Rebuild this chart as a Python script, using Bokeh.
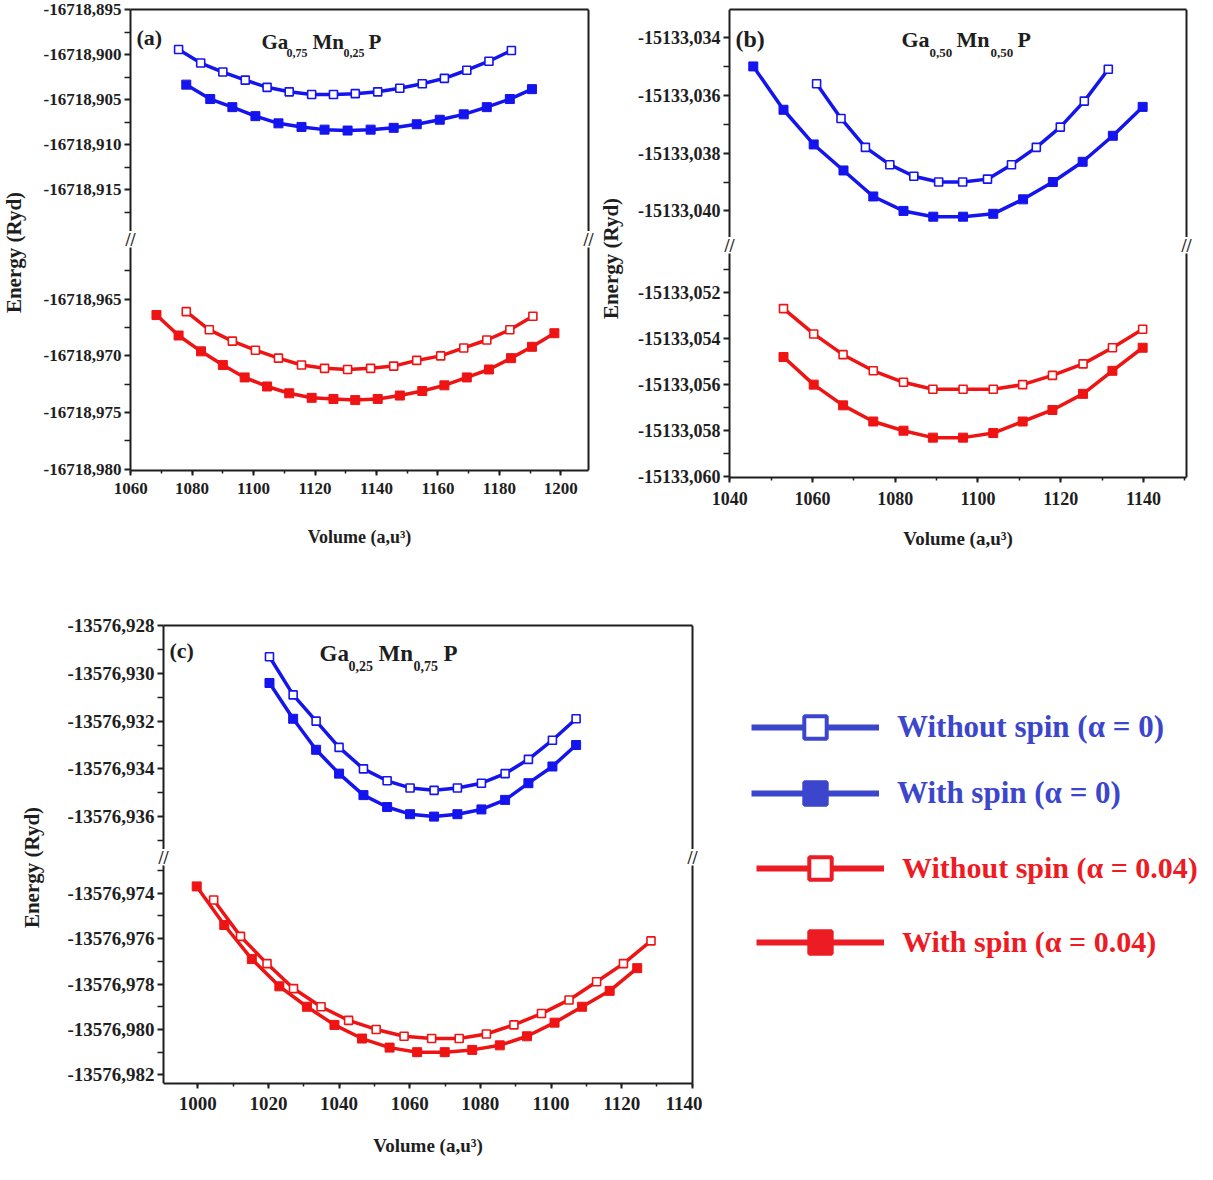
import math
from bokeh.plotting import figure
from bokeh.models import (Range1d, LinearAxis, SingleIntervalTicker, FixedTicker,
                          CustomJSTickFormatter, Label, Legend, LegendItem, Spacer)
from bokeh.layouts import row, column
from bokeh.embed import file_html
from bokeh.resources import INLINE

FONT = "Liberation Serif"
BLUE = "#1414EE"
RED = "#EE1414"
LEG_BLUE = "#3C46CC"
LEG_RED = "#ED1C24"
INK = "#1e1e1e"

# ---------------- data (Volume in a.u.^3, Energy in Ryd) ----------------
# (a) Ga0.75Mn0.25P
a_v_blue_open = [1075.6, 1082.8, 1090.0, 1097.3, 1104.4, 1111.6, 1118.9, 1126.0, 1133.1, 1140.4, 1147.6, 1154.9, 1162.1, 1169.4, 1176.6, 1183.9]
a_e_blue_open = [-16718.8994, -16718.9009, -16718.9019, -16718.9028, -16718.9036, -16718.9041, -16718.9044, -16718.9044, -16718.9043, -16718.9041, -16718.9037, -16718.9032, -16718.9026, -16718.9017, -16718.9007, -16718.8995]
a_v_blue_fill = [1078.1, 1085.9, 1093.1, 1100.6, 1108.1, 1115.6, 1123.1, 1130.6, 1138.1, 1145.6, 1153.1, 1160.6, 1168.4, 1175.9, 1183.4, 1190.6]
a_e_blue_fill = [-16718.9033, -16718.9049, -16718.9058, -16718.9068, -16718.9076, -16718.9080, -16718.9083, -16718.9084, -16718.9083, -16718.9081, -16718.9077, -16718.9072, -16718.9066, -16718.9058, -16718.9049, -16718.9038]
a_v_red_open = [1078.1, 1085.6, 1093.1, 1100.6, 1108.1, 1115.6, 1123.1, 1130.6, 1138.1, 1145.6, 1153.1, 1160.9, 1168.4, 1175.9, 1183.4, 1190.9]
a_e_red_open = [-16718.9661, -16718.9677, -16718.9687, -16718.9695, -16718.9702, -16718.9708, -16718.9711, -16718.9712, -16718.9711, -16718.9709, -16718.9704, -16718.9700, -16718.9693, -16718.9686, -16718.9677, -16718.9665]
a_v_red_fill = [1068.4, 1075.6, 1082.9, 1090.0, 1097.1, 1104.4, 1111.6, 1118.9, 1126.0, 1133.1, 1140.4, 1147.6, 1154.9, 1162.1, 1169.4, 1176.6, 1183.8, 1190.6, 1197.9]
a_e_red_fill = [-16718.9664, -16718.9682, -16718.9696, -16718.9708, -16718.9719, -16718.9727, -16718.9733, -16718.9737, -16718.9738, -16718.9739, -16718.9738, -16718.9735, -16718.9731, -16718.9726, -16718.9719, -16718.9712, -16718.9702, -16718.9692, -16718.9680]
a_yticks_top = [-16718.895, -16718.900, -16718.905, -16718.910, -16718.915]
a_yticks_bot = [-16718.965, -16718.970, -16718.975, -16718.980]

# (b) Ga0.50Mn0.50P
b_v_blue_fill = [1045.7, 1053.0, 1060.3, 1067.5, 1074.7, 1082.0, 1089.2, 1096.4, 1103.7, 1110.9, 1118.1, 1125.3, 1132.6, 1139.8]
b_e_blue_fill = [-15133.0350, -15133.0365, -15133.0377, -15133.0386, -15133.0395, -15133.0400, -15133.0402, -15133.0402, -15133.0401, -15133.0396, -15133.0390, -15133.0383, -15133.0374, -15133.0364]
b_v_blue_open = [1061.0, 1066.9, 1072.8, 1078.7, 1084.5, 1090.5, 1096.3, 1102.3, 1108.1, 1114.1, 1119.9, 1125.7, 1131.5]
b_e_blue_open = [-15133.0356, -15133.0368, -15133.0378, -15133.0384, -15133.0388, -15133.0390, -15133.0390, -15133.0389, -15133.0384, -15133.0378, -15133.0371, -15133.0362, -15133.0351]
b_v_red = [1053.0, 1060.3, 1067.4, 1074.7, 1082.0, 1089.1, 1096.4, 1103.7, 1110.8, 1118.0, 1125.4, 1132.5, 1139.8]
b_e_red_open = [-15133.0527, -15133.0538, -15133.0547, -15133.0554, -15133.0559, -15133.0562, -15133.0562, -15133.0562, -15133.0560, -15133.0556, -15133.0551, -15133.0544, -15133.0536]
b_e_red_fill = [-15133.0548, -15133.0560, -15133.0569, -15133.0576, -15133.0580, -15133.0583, -15133.0583, -15133.0581, -15133.0576, -15133.0571, -15133.0564, -15133.0554, -15133.0544]
b_yticks_top = [-15133.034, -15133.036, -15133.038, -15133.040]
b_yticks_bot = [-15133.052, -15133.054, -15133.056, -15133.058, -15133.060]

# (c) Ga0.25Mn0.75P
c_v_blue = [1020.3, 1027.0, 1033.5, 1040.0, 1046.9, 1053.6, 1060.1, 1066.9, 1073.5, 1080.3, 1087.0, 1093.6, 1100.4, 1107.1]
c_e_blue_open = [-13576.9293, -13576.9309, -13576.9320, -13576.9331, -13576.9340, -13576.9345, -13576.9348, -13576.9349, -13576.9348, -13576.9346, -13576.9342, -13576.9336, -13576.9328, -13576.9319]
c_e_blue_fill = [-13576.9304, -13576.9319, -13576.9332, -13576.9342, -13576.9351, -13576.9356, -13576.9359, -13576.9360, -13576.9359, -13576.9357, -13576.9353, -13576.9346, -13576.9339, -13576.9330]
c_v_red_open = [1004.5, 1012.1, 1019.6, 1027.1, 1034.9, 1042.7, 1050.5, 1058.4, 1066.2, 1074.0, 1081.7, 1089.5, 1097.3, 1105.1, 1112.9, 1120.5, 1128.3]
c_e_red_open = [-13576.9743, -13576.9759, -13576.9771, -13576.9782, -13576.9790, -13576.9796, -13576.9800, -13576.9803, -13576.9804, -13576.9804, -13576.9802, -13576.9798, -13576.9793, -13576.9787, -13576.9779, -13576.9771, -13576.9761]
c_v_red_fill = [999.7, 1007.5, 1015.3, 1023.1, 1030.9, 1038.7, 1046.5, 1054.3, 1062.1, 1069.9, 1077.7, 1085.5, 1093.2, 1101.0, 1108.8, 1116.6, 1124.4]
c_e_red_fill = [-13576.9737, -13576.9754, -13576.9769, -13576.9781, -13576.9790, -13576.9798, -13576.9804, -13576.9808, -13576.9810, -13576.9810, -13576.9809, -13576.9807, -13576.9803, -13576.9797, -13576.9790, -13576.9783, -13576.9773]
c_yticks_top = [-13576.928, -13576.930, -13576.932, -13576.934, -13576.936]
c_yticks_bot = [-13576.974, -13576.976, -13576.978, -13576.980, -13576.982]

legend_labels = ["Without spin (\u03b1 = 0)", "With spin (\u03b1 = 0)",
                 "Without spin (\u03b1 = 0.04)", "With spin (\u03b1 = 0.04)"]
x_title = "Volume (a,u\u00b3)"
y_title = "Energy (Ryd)"

FMT = "return tick.toFixed(3).replace('.', ',');"
GAP = 16   # vertical gap of the axis break, px
PADX = 6   # frame extends this many px beyond the drawn frame lines (room for break marks)


def plain_axis(**kw):
    return LinearAxis(ticker=FixedTicker(ticks=[]), major_tick_line_color=None,
                      minor_tick_line_color=None, major_label_text_font_size="0px",
                      major_label_standoff=0, axis_label_standoff=0,
                      axis_line_width=2, axis_line_color=INK, **kw)


def style_axis(ax, fs):
    ax.axis_line_width = 2
    ax.axis_line_color = INK
    ax.major_tick_line_width = 2
    ax.major_tick_line_color = INK
    ax.minor_tick_line_width = 1.5
    ax.minor_tick_line_color = INK
    ax.major_tick_out = 5
    ax.major_tick_in = 0
    ax.minor_tick_out = 3
    ax.minor_tick_in = 0
    ax.major_label_text_font = FONT
    ax.major_label_text_font_style = "bold"
    ax.major_label_text_font_size = f"{fs}px"
    ax.major_label_text_color = INK


def label(p, x, y, dx, dy, text, size, color=INK, align="left", baseline="alphabetic", angle=0.0):
    p.add_layout(Label(x=x, y=y, x_offset=dx, y_offset=dy, text=text, text_font=FONT,
                       text_font_style="bold", text_font_size=f"{size}px", text_color=color,
                       text_align=align, text_baseline=baseline, angle=angle))


def series(p, v, e, color, filled):
    p.line(v, e, line_color=color, line_width=3.5)
    if filled:
        p.scatter(v, e, marker="square", size=9, fill_color=color, line_color=color, line_width=1)
    else:
        p.scatter(v, e, marker="square", size=8, fill_color="white", line_color=color, line_width=1.6)


def minor_between(ticks, lo, hi):
    step = ticks[1] - ticks[0]
    cands = [t + step / 2 for t in ticks] + [ticks[0] - step / 2]
    return [m for m in cands if lo < m < hi]


def panel(cfg, top_series, bot_series):
    xa0, xa1 = cfg["xr"]
    fw = cfg["w"] - cfg["ml"] - cfg["mr"]
    padx = PADX * (xa1 - xa0) / fw
    xr = Range1d(xa0 - padx, xa1 + padx)
    yb0, yb1 = cfg["yb"]
    fh = cfg["hb"] - cfg["mb"] - GAP
    ext = GAP * (yb1 - yb0) / fh
    common = dict(width=cfg["w"], x_range=xr, toolbar_location=None, output_backend="svg",
                  min_border_left=cfg["ml"] - PADX, min_border_right=cfg["mr"] - PADX)
    top = figure(height=cfg["ht"], y_range=Range1d(*cfg["yt"]), x_axis_location=None,
                 min_border_top=cfg["mt"], min_border_bottom=0, **common)
    bot = figure(height=cfg["hb"], y_range=Range1d(yb0, yb1 + ext),
                 min_border_top=0, min_border_bottom=cfg["mb"], **common)
    for p, ticks, yr in ((top, cfg["tt"], cfg["yt"]), (bot, cfg["tb"], cfg["yb"])):
        p.outline_line_color = None
        p.grid.visible = False
        ax = p.yaxis[0]
        ax.ticker = FixedTicker(ticks=ticks, minor_ticks=minor_between(ticks, yr[0], yr[1]))
        ax.formatter = CustomJSTickFormatter(code=FMT)
        style_axis(ax, cfg["fsy"])
        # the axis sits PADX px left of the visible frame line: its inward ticks
        # therefore end exactly on that line
        ax.axis_line_color = None
        ax.major_tick_out = 0
        ax.major_tick_in = PADX
        ax.minor_tick_out = 0
        ax.minor_tick_in = PADX
        ax.major_label_standoff = 3
        # visible left / right frame lines of this part
        p.segment(x0=[xa0, xa1], y0=[yr[0], yr[0]], x1=[xa0, xa1], y1=[yr[1], yr[1]],
                  line_color=INK, line_width=2)
    top.add_layout(plain_axis(bounds=(xa0, xa1)), "above")
    xa = bot.xaxis[0]
    xa.ticker = SingleIntervalTicker(interval=20, num_minor_ticks=2)
    style_axis(xa, cfg["fsx"])
    xa.bounds = (xa0, xa1)
    xa.major_label_standoff = cfg["xstand"]
    xa.axis_label = x_title
    xa.axis_label_text_font = FONT
    xa.axis_label_text_font_style = "bold"
    xa.axis_label_text_font_size = f"{cfg['fsl']}px"
    xa.axis_label_text_color = INK
    xa.axis_label_standoff = cfg["lstand"]

    for v, e, c, f in top_series:
        series(top, v, e, c, f)
    for v, e, c, f in bot_series:
        series(bot, v, e, c, f)

    # break marks, drawn inside the gap above the lower part
    for xx in (xa0, xa1):
        label(bot, xx, yb1, 0, GAP / 2, "//", 18, align="center", baseline="middle")
    # panel letter and compound title
    ytop = cfg["yt"][1]
    label(top, xa0, ytop, cfg["let"][1], -cfg["let"][2], cfg["let"][0], cfg["let"][3])
    for text, dx, dy, size in cfg["title"]:
        label(top, xa0, ytop, dx, -dy, text, size)
    return column(top, bot)


def ylab_fig(w, h, cx, cy_from_top, size):
    f = figure(width=w, height=h, x_range=Range1d(0, w), y_range=Range1d(0, h),
               x_axis_location=None, y_axis_location=None, toolbar_location=None,
               output_backend="svg", min_border=0)
    f.outline_line_color = None
    f.grid.visible = False
    label(f, cx, h - cy_from_top, 0, 0, y_title, size, align="center", baseline="middle",
          angle=math.pi / 2)
    return f


cfg_a = dict(xr=(1059.95, 1209.0), yt=(-16718.91962, -16718.89495), yb=(-16718.98011, -16718.96044),
             tt=a_yticks_top, tb=a_yticks_bot,
             w=566, ml=100, mr=8, ht=231, hb=336, mt=9, mb=97,
             fsy=17, fsx=17, fsl=18, xstand=7, lstand=30,
             let=("(a)", 6, 28, 22),
             title=[("Ga", 131, 32, 21), ("0,75", 156, 43, 12), ("Mn", 182, 32, 21),
                    ("0,25", 213, 43, 12), ("P", 238, 32, 21)])
cfg_b = dict(xr=(1039.95, 1150.4), yt=(-15133.04092, -15133.03303), yb=(-15133.06003, -15133.05031),
             tt=b_yticks_top, tb=b_yticks_bot,
             w=570, ml=105, mr=8, ht=237, hb=330, mt=9, mb=90,
             fsy=18, fsx=18, fsl=19, xstand=9, lstand=20,
             let=("(b)", 6, 29, 24),
             title=[("Ga", 172, 30, 22), ("0,50", 200, 43, 13), ("Mn", 227, 30, 22),
                    ("0,50", 261, 43, 13), ("P", 288, 30, 22)])
cfg_c = dict(xr=(990.3, 1140.05), yt=(-13576.93738, -13576.92799), yb=(-13576.98238, -13576.97278),
             tt=c_yticks_top, tb=c_yticks_bot,
             w=657, ml=118, mr=10, ht=238, hb=314, mt=14, mb=80,
             fsy=19, fsx=19, fsl=19, xstand=8, lstand=22,
             let=("(c)", 6, 25, 22),
             title=[("Ga", 156, 28, 23), ("0,25", 185, 40, 14), ("Mn", 215, 28, 23),
                    ("0,75", 250, 40, 14), ("P", 280, 28, 23)])

pa = panel(cfg_a,
           [(a_v_blue_open, a_e_blue_open, BLUE, False), (a_v_blue_fill, a_e_blue_fill, BLUE, True)],
           [(a_v_red_open, a_e_red_open, RED, False), (a_v_red_fill, a_e_red_fill, RED, True)])
pb = panel(cfg_b,
           [(b_v_blue_open, b_e_blue_open, BLUE, False), (b_v_blue_fill, b_e_blue_fill, BLUE, True)],
           [(b_v_red, b_e_red_open, RED, False), (b_v_red, b_e_red_fill, RED, True)])
pc = panel(cfg_c,
           [(c_v_blue, c_e_blue_open, BLUE, False), (c_v_blue, c_e_blue_fill, BLUE, True)],
           [(c_v_red_open, c_e_red_open, RED, False), (c_v_red_fill, c_e_red_fill, RED, True)])

ya = ylab_fig(30, 567, 13, 252, 21)
yb = ylab_fig(28, 567, 14, 258, 21)
yc = ylab_fig(45, 552, 31, 256, 21)

# legend figure
lf = figure(width=495, height=400, x_range=Range1d(0, 1), y_range=Range1d(0, 1),
            x_axis_location=None, y_axis_location=None, toolbar_location=None,
            output_backend="svg", min_border=0)
lf.outline_line_color = None
lf.grid.visible = False

NAN = float("nan")


def leg_renderers(color, filled):
    ln = lf.line(x=[NAN], y=[NAN], line_color=color, line_width=6)
    sc = lf.scatter(x=[NAN], y=[NAN], marker="square", size=22, line_color=color, line_width=4,
                    fill_color=color if filled else "white")
    return [ln, sc]


blue_items = [LegendItem(label=legend_labels[0], renderers=leg_renderers(LEG_BLUE, False)),
              LegendItem(label=legend_labels[1], renderers=leg_renderers(LEG_BLUE, True))]
red_items = [LegendItem(label=legend_labels[2], renderers=leg_renderers(LEG_RED, False)),
             LegendItem(label=legend_labels[3], renderers=leg_renderers(LEG_RED, True))]

# location = bottom-left corner of each legend block, from the frame's bottom-left
for items, color, loc, spacing, fs in ((blue_items, LEG_BLUE, (49, 190), 10, 31),
                                       (red_items, LEG_RED, (54, 41), 18, 30)):
    lg = Legend(items=items, location=loc, glyph_width=128, glyph_height=56, label_height=56,
                label_standoff=18, spacing=spacing, padding=0, margin=0,
                border_line_color=None, background_fill_alpha=0,
                label_text_font=FONT, label_text_font_style="bold",
                label_text_font_size=f"{fs}px", label_text_color=color)
    lf.add_layout(lg)

layout = column(row(ya, pa, yb, pb), Spacer(height=44), row(yc, pc, lf))

open("out.html", "w").write(file_html(layout, INLINE))
